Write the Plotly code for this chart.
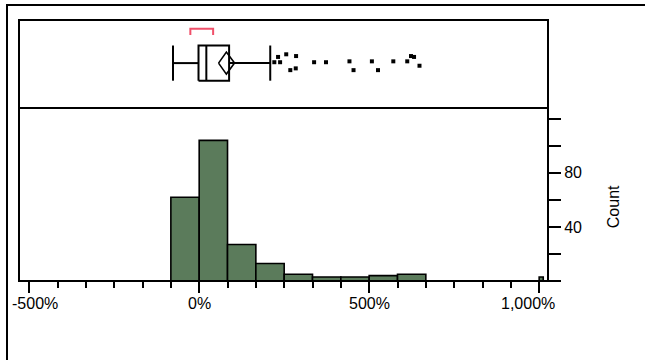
import plotly.graph_objects as go

# ---- data ----
bin_start = -83.33
bin_width = 83.33
bin_counts = [62, 104, 27, 13, 5, 3, 3, 4, 5]
extra_bar_x = [1006]
extra_bar_width = [12]
extra_bar_count = [3]

whisker_low = -77
q1 = -2
median = 21
q3 = 88
whisker_high = 209
mean = 80
mean_ci = [57, 104]
shortest_half = [-26, 41]

outlier_x = [221, 232, 238, 256, 285, 268, 284, 338, 373, 442, 454, 508, 526, 571, 612, 623, 632, 648]
outlier_jitter = [0.52, 0.58, 0.52, 0.61, 0.59, 0.43, 0.45, 0.52, 0.52, 0.53, 0.43, 0.53, 0.43, 0.53, 0.53, 0.59, 0.58, 0.48]

x_tick_vals = [-500, 0, 500, 1000]
x_tick_text = ["-500%", "0%", "500%", "1,000%"]
y_tick_vals = [40, 80]
y_tick_text = ["40", "80"]

# ---- styling ----
GREEN = "#5b7b5b"
FONT = "Liberation Sans, Arial, sans-serif"
W, H = 645, 360
ML, MR, MT, MB = 19, 97, 20, 79
HIST_TOP = 0.663
PW, PH = W - ML - MR, H - MT - MB

fig = go.Figure()

# histogram bars
centers = [bin_start + bin_width * (i + 0.5) for i in range(len(bin_counts))]
widths = [bin_width] * len(bin_counts)
fig.add_trace(go.Bar(
    x=centers + extra_bar_x, y=bin_counts + extra_bar_count,
    width=widths + extra_bar_width,
    marker=dict(color=GREEN, line=dict(color="black", width=1.6)),
    xaxis="x", yaxis="y", showlegend=False, hoverinfo="skip"))

# box plot (drawn on yaxis2, 0..1 panel coordinates)
yc, hh, dh = 0.51, 0.2, 0.125
line = dict(color="black", width=2)
def seg(xs, ys, color="black", width=2):
    fig.add_trace(go.Scatter(x=xs, y=ys, mode="lines", line=dict(color=color, width=width),
                             xaxis="x", yaxis="y2", showlegend=False, hoverinfo="skip"))

# whiskers
seg([whisker_low, q1], [yc, yc])
seg([q3, whisker_high], [yc, yc])
seg([whisker_low, whisker_low], [yc - hh, yc + hh])
seg([whisker_high, whisker_high], [yc - hh, yc + hh])
# box
fig.add_trace(go.Scatter(x=[q1, q3, q3, q1, q1], y=[yc - hh, yc - hh, yc + hh, yc + hh, yc - hh],
                         mode="lines", line=line, fill="toself", fillcolor="white",
                         xaxis="x", yaxis="y2", showlegend=False, hoverinfo="skip"))
seg([median, median], [yc - hh, yc + hh])
# means diamond
seg([mean_ci[0], mean, mean_ci[1], mean, mean_ci[0]], [yc, yc + dh, yc, yc - dh, yc], width=1.6)
# shortest half bracket
seg([shortest_half[0], shortest_half[0], shortest_half[1], shortest_half[1]],
    [0.83, 0.9, 0.9, 0.83], color="#f0506a", width=2)
# outliers
fig.add_trace(go.Scatter(x=outlier_x, y=outlier_jitter, mode="markers",
                         marker=dict(symbol="square", size=4, color="black", line=dict(width=0)),
                         xaxis="x", yaxis="y2", showlegend=False, hoverinfo="skip"))

# tick label annotations
annotations = []
for v, t in zip(x_tick_vals, x_tick_text):
    anchor, shift = "center", 0
    if v == x_tick_vals[0]:
        anchor, shift = "left", -19
    elif v == x_tick_vals[-1]:
        anchor, shift = "right", 18
    annotations.append(dict(x=v, xref="x", y=-0.045, yref="paper", text=t, showarrow=False,
                            xanchor=anchor, yanchor="top", xshift=shift,
                            font=dict(family=FONT, size=16, color="black")))
annotations.append(dict(x=1.123, xref="paper", y=0.283, yref="paper", text="Count", textangle=-90,
                        showarrow=False, xanchor="center", yanchor="middle",
                        font=dict(family=FONT, size=16, color="black")))

shapes = [
    # outer frame (extends past the right and bottom edges of the picture)
    dict(type="rect", xref="paper", yref="paper", x0=-12 / PW, x1=1.4, y0=-0.5, y1=(PH + 15) / PH,
         line=dict(color="black", width=2), layer="above"),
    # inner frame
    dict(type="rect", xref="paper", yref="paper", x0=0, x1=1, y0=0, y1=1,
         line=dict(color="black", width=2), layer="above"),
    # divider
    dict(type="line", xref="paper", yref="paper", x0=0, x1=1, y0=HIST_TOP, y1=HIST_TOP,
         line=dict(color="black", width=2), layer="above"),
]

fig.update_layout(
    width=W, height=H, margin=dict(l=ML, r=MR, t=MT, b=MB),
    paper_bgcolor="white", plot_bgcolor="white",
    bargap=0,
    xaxis=dict(range=[-530, 1026], anchor="y", showgrid=False, zeroline=False, showline=False,
               tickvals=x_tick_vals, showticklabels=False, ticks="outside", ticklen=11,
               tickwidth=2, tickcolor="black",
               minor=dict(tick0=0, dtick=500 / 6, ticks="outside", ticklen=6, tickwidth=2,
                          tickcolor="black", showgrid=False)),
    yaxis=dict(domain=[0, HIST_TOP], range=[0, 128], side="right", showgrid=False, zeroline=False,
               showline=False, tickvals=y_tick_vals, ticktext=y_tick_text, ticks="outside",
               ticklen=12, tickwidth=2, tickcolor="black",
               tickfont=dict(family=FONT, size=16, color="black"),
               minor=dict(tick0=0, dtick=20, ticks="outside", ticklen=12, tickwidth=2,
                          tickcolor="black", showgrid=False)),
    yaxis2=dict(domain=[HIST_TOP, 1], range=[0, 1], showgrid=False, zeroline=False,
                showline=False, showticklabels=False, ticks=""),
    annotations=annotations, shapes=shapes,
)

# remove the default 8px page margin so the figure sits at the window's corner
fig.write_html("out.html", config={"displayModeBar": False, "staticPlot": True},
               post_script="document.body.style.margin='0';document.body.style.overflow='hidden';")
